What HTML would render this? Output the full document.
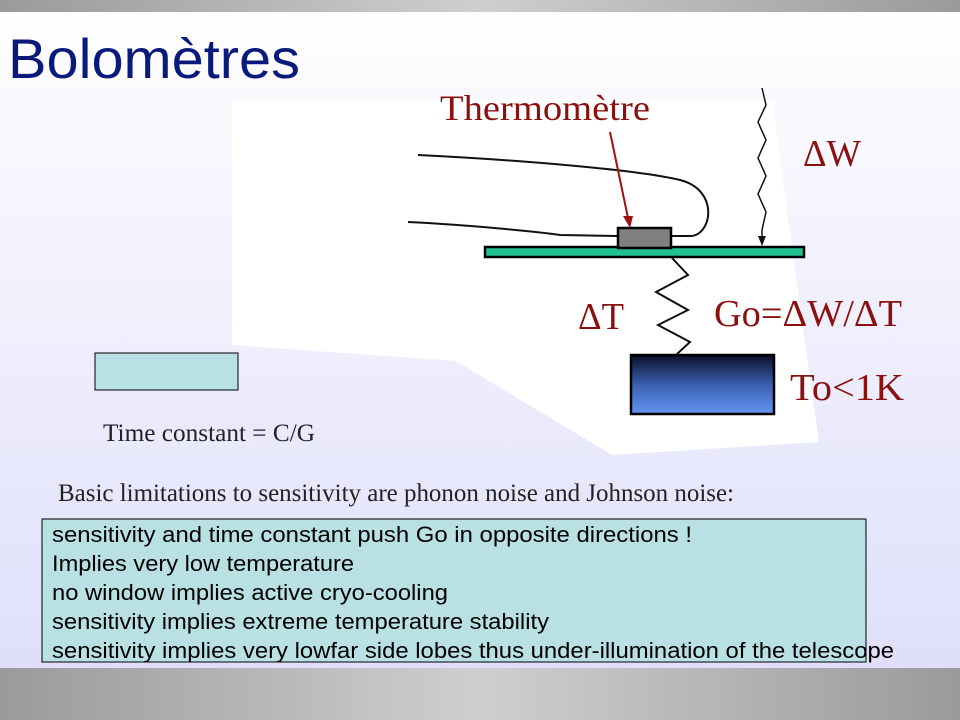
<!DOCTYPE html>
<html><head><meta charset="utf-8"><style>
html,body{margin:0;padding:0;width:960px;height:720px;overflow:hidden}
</style></head><body>
<svg width="960" height="720" xmlns="http://www.w3.org/2000/svg">
<defs>
<linearGradient id="bg" x1="0" y1="0" x2="0" y2="1">
<stop offset="0" stop-color="#ffffff"/><stop offset="1" stop-color="#dcdcfa"/></linearGradient>
<linearGradient id="bar" x1="0" y1="0" x2="1" y2="0">
<stop offset="0" stop-color="#9a9a9a"/><stop offset="0.5" stop-color="#cfcfcf"/><stop offset="1" stop-color="#9a9a9a"/></linearGradient>
<linearGradient id="blk" x1="0" y1="0" x2="0" y2="1">
<stop offset="0" stop-color="#0a0f25"/><stop offset="0.5" stop-color="#3a5fb0"/><stop offset="1" stop-color="#6495f0"/></linearGradient>
</defs>
<rect width="960" height="720" fill="url(#bg)"/>
<rect x="0" y="0" width="960" height="12" fill="url(#bar)"/>
<rect x="0" y="668" width="960" height="52" fill="url(#bar)"/>
<polygon points="232,100 772,100 799,300 819,442 612,455 456,361 232,345" fill="#ffffff"/>
<g lengthAdjust="spacingAndGlyphs">
<text x="8" y="78" font-family="Liberation Sans, sans-serif" font-size="56" fill="#0a1a7a" textLength="292" lengthAdjust="spacingAndGlyphs">Bolomètres</text>
<text x="440" y="120" font-family="Liberation Serif, serif" font-size="36" fill="#8b1010" textLength="210" lengthAdjust="spacingAndGlyphs">Thermomètre</text>
<text x="803" y="166" font-family="Liberation Serif, serif" font-size="38" fill="#8b1010" textLength="58" lengthAdjust="spacingAndGlyphs">ΔW</text>
<text x="578" y="329" font-family="Liberation Serif, serif" font-size="38" fill="#8b1010" textLength="46" lengthAdjust="spacingAndGlyphs">ΔT</text>
<text x="714" y="326" font-family="Liberation Serif, serif" font-size="38" fill="#8b1010" textLength="188" lengthAdjust="spacingAndGlyphs">Go=ΔW/ΔT</text>
<text x="790" y="400" font-family="Liberation Serif, serif" font-size="38" fill="#8b1010" textLength="114" lengthAdjust="spacingAndGlyphs">To&lt;1K</text>
</g>
<path d="M418,155 C520,160 640,170 680,180 C720,190 712,236 690,236 L672,236" fill="none" stroke="#111" stroke-width="2"/>
<path d="M408,222 C470,225 540,232 560,235 L617,236" fill="none" stroke="#111" stroke-width="2"/>
<line x1="610" y1="132" x2="628" y2="218" stroke="#a01010" stroke-width="2"/>
<polygon points="623,216 633,216 630,228" fill="#a01010"/>
<polyline points="762,88 766,105 758,122 766,140 758,158 766,176 758,194 766,212 762,230 762,240" fill="none" stroke="#111" stroke-width="1.5"/>
<polygon points="758,236 766,236 762,246" fill="#111"/>
<rect x="485" y="247" width="319" height="10" fill="#20c090" stroke="#000" stroke-width="2.5"/>
<rect x="618" y="228" width="53" height="20" fill="#808080" stroke="#000" stroke-width="2.5"/>
<polyline points="672,258 688,275 656,292 688,310 658,325 690,342 677,354" fill="none" stroke="#111" stroke-width="2"/>
<rect x="631" y="355" width="143" height="59" fill="url(#blk)" stroke="#000" stroke-width="2.5"/>
<rect x="95" y="353" width="143" height="37" fill="#b9e0e3" stroke="#000" stroke-width="1"/>
<text x="103" y="441" font-family="Liberation Serif, serif" font-size="25" fill="#222" textLength="212" lengthAdjust="spacingAndGlyphs">Time constant = C/G</text>
<text x="58" y="501" font-family="Liberation Serif, serif" font-size="25" fill="#222" textLength="676" lengthAdjust="spacingAndGlyphs">Basic limitations to sensitivity are phonon noise and Johnson noise:</text>
<rect x="42" y="519" width="824" height="143" fill="#b9e0e3" stroke="#000" stroke-width="1"/>
<g font-family="Liberation Sans, sans-serif" font-size="22" fill="#000">
<text x="52" y="542" textLength="640" lengthAdjust="spacingAndGlyphs">sensitivity and time constant push Go in opposite directions !</text>
<text x="52" y="571" textLength="302" lengthAdjust="spacingAndGlyphs">Implies very low temperature</text>
<text x="52" y="600" textLength="396" lengthAdjust="spacingAndGlyphs">no window implies active cryo-cooling</text>
<text x="52" y="629" textLength="497" lengthAdjust="spacingAndGlyphs">sensitivity implies extreme temperature stability</text>
<text x="52" y="658" textLength="842" lengthAdjust="spacingAndGlyphs">sensitivity implies very lowfar side lobes thus under-illumination of the telescope</text>
</g>
</svg>
</body></html>
